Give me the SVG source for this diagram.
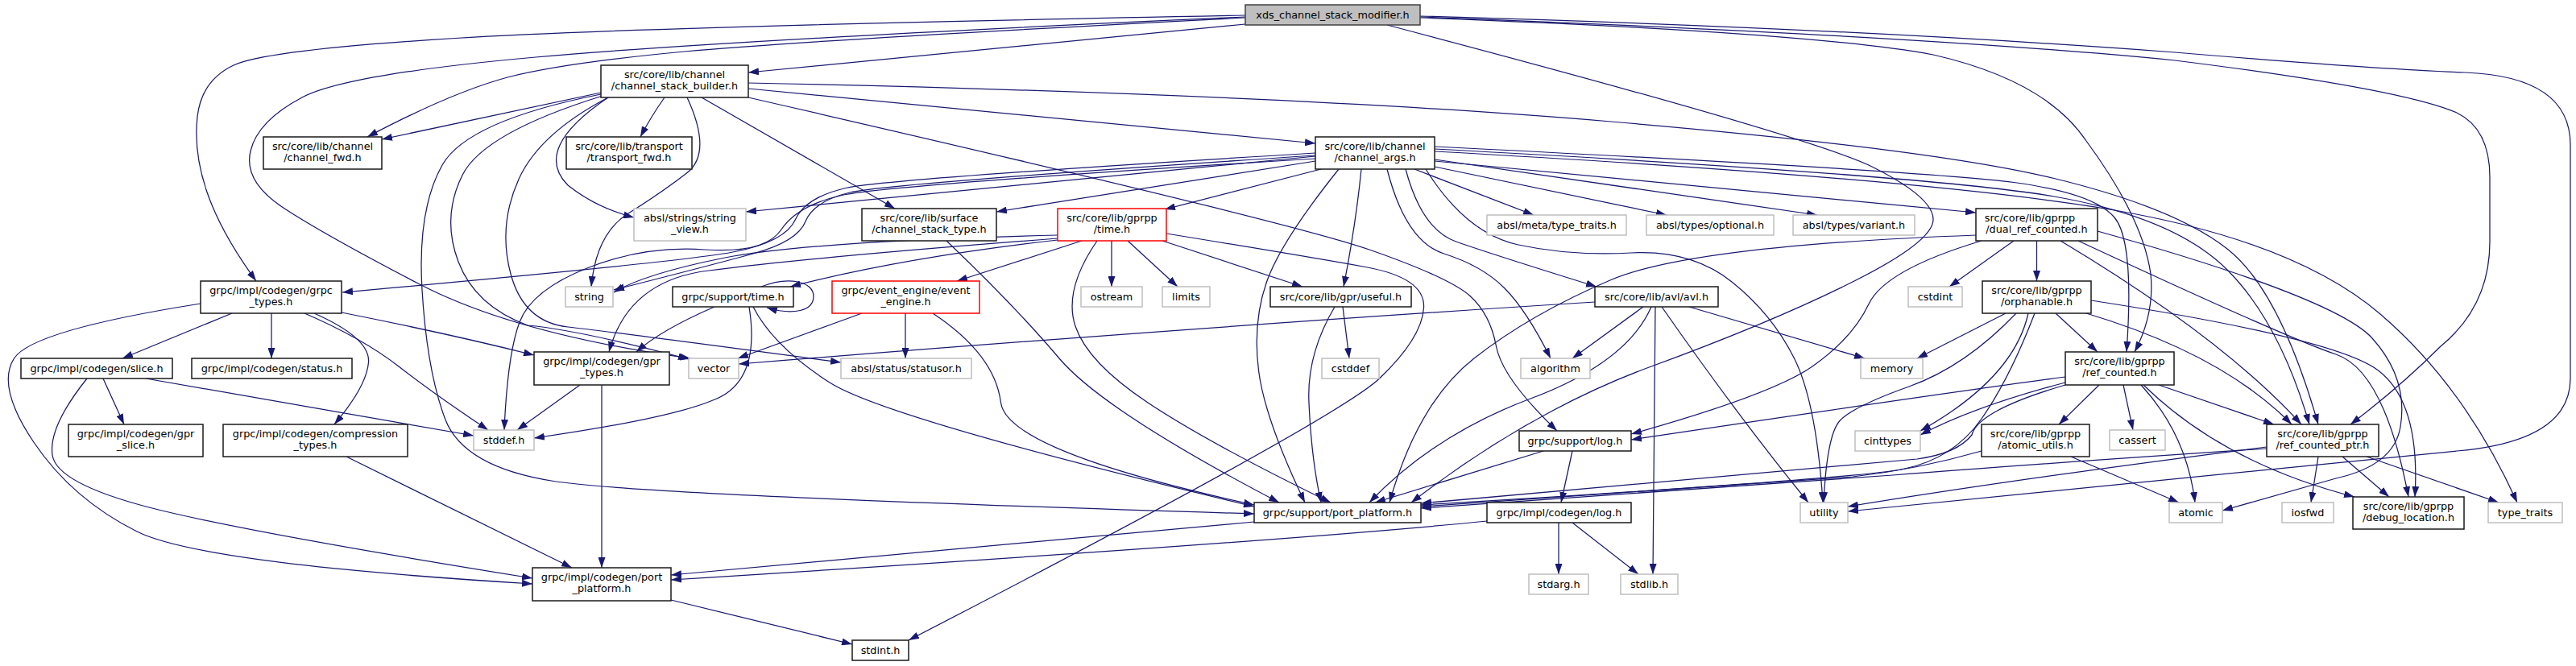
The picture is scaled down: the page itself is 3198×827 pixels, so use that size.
<svg xmlns="http://www.w3.org/2000/svg" width="3198" height="827" viewBox="0 0 3198 827">
<style>
.e{fill:none;stroke:#191970;stroke-width:1.25;marker-end:url(#ah)}
.b{fill:#fff;stroke:#1a1a1a;stroke-width:1.5}
.g{fill:#fff;stroke:#bfbfbf;stroke-width:1.5}
.r{fill:#fff;stroke:#ff0000;stroke-width:1.5}
.t{fill:#bfbfbf;stroke:#404040;stroke-width:1.5}
text{font-family:"DejaVu Sans","Liberation Sans",sans-serif;font-size:12.8px;text-anchor:middle;fill:#000}
</style>
<defs>
<marker id="ah" viewBox="0 0 13 9" refX="13" refY="4.5" markerWidth="13" markerHeight="9" markerUnits="userSpaceOnUse" orient="auto"><path d="M0,0 L13,4.5 L0,9 Z" fill="#191970"/></marker>
</defs>
<rect width="3198" height="827" fill="#fff"/>
<g id="edges">
<path class="e" d="M1546,30 L929,90"/>
<path class="e" d="M1546,22 Q1000,50 850,64 Q700,78 630,96 Q560,115 456,170"/>
<path class="e" d="M1546,19 Q800,33 565,47.5 Q330,62 290,81 Q250,100 245,145 Q240,190 257.5,240 Q275,290 318,349"/>
<path class="e" d="M1546,21 Q900,50 665,71 Q430,92 375,121 Q320,150 311,187.5 Q302,225 351,257.5 Q400,290 520,352.5 Q640,415 857,445"/>
<path class="e" d="M1763,20 Q2300,35 2700,65 Q2950,86 3060,90 Q3191,95 3191,180 L3191,470 Q3191,548 3050,560 Q2600,605 2294,635"/>
<path class="e" d="M1763,21 Q2400,45 2700,75 Q2980,110 3050,140 Q3091,160 3091,220 L3091,300 Q3091,380 3030,430 Q2980,480 2918,527"/>
<path class="e" d="M1763,22 Q2250,40 2400,68 Q2540,100 2590,175 Q2660,270 2670,340 Q2675,390 2650,437"/>
<path class="e" d="M1722,31 Q2250,170 2325,207.5 Q2400,245 2400,272.5 Q2400,300 2300,350 Q2200,400 2050,455 Q1900,510 1752,624"/>
<path class="e" d="M746,115 L474,173"/>
<path class="e" d="M825,121 Q808,145 795,170"/>
<path class="e" d="M755,121 Q660,185 705,230 Q740,258 787,270"/>
<path class="e" d="M853,121 Q885,190 852.5,215 Q820,240 780,265 Q740,290 734,356"/>
<path class="e" d="M748,119 Q600,165 574,217.5 Q548,270 569,325 Q590,380 655,404 Q720,410 855,446"/>
<path class="e" d="M757,120 Q670,165 644,222.5 Q618,280 634,340 Q650,400 705,406 Q760,412 1044,450"/>
<path class="e" d="M871,121 L1111,259"/>
<path class="e" d="M929,110 L1633,178"/>
<path class="e" d="M929,121 Q1600,275 1700,310 Q1800,345 1825,367.5 Q1850,390 1857.5,430 Q1865,470 1933,535"/>
<path class="e" d="M746,117 Q580,150 549,205 Q518,260 524,360 Q530,460 552.5,520 Q575,580 687.5,597.5 Q800,615 1557,638"/>
<path class="e" d="M929,103 Q1600,117 2000,151 Q2400,185 2550,221.5 Q2700,258 2765,309 Q2830,360 2878,527"/>
<path class="e" d="M1633,194 L926,263"/>
<path class="e" d="M1633,200 L1237,263"/>
<path class="e" d="M1640,210 L1446,260"/>
<path class="e" d="M1756,210 L1904,267"/>
<path class="e" d="M1781,207 L2069,267"/>
<path class="e" d="M1781,198 L2256,267"/>
<path class="e" d="M1781,200 L2453,264"/>
<path class="e" d="M1633,190 Q1100,222 1050,233.5 Q1000,245 987.5,272.5 Q975,300 912.5,312.5 Q850,325 425,363"/>
<path class="e" d="M1633,193 Q1100,228 1055,239 Q1010,250 1000,275 Q990,300 935,315 Q880,330 762,360"/>
<path class="e" d="M1690,210 Q1683,280 1668,356"/>
<path class="e" d="M1745,210 Q1765,285 1807.5,300 Q1850,315 1982,356"/>
<path class="e" d="M1722,210 Q1745,300 1792.5,315 Q1840,330 1867.5,357.5 Q1895,385 1925,445"/>
<path class="e" d="M1770,210 Q1820,290 1885,304 Q1950,318 2025,314 Q2100,310 2150,350 Q2200,390 2227.5,445 Q2255,500 2263,624"/>
<path class="e" d="M1662,210 Q1590,300 1572.5,350 Q1555,400 1562.5,460 Q1570,520 1620,624"/>
<path class="e" d="M1633,197 Q1100,230 1045,242.5 Q990,255 970,285 Q950,315 875,310 Q800,305 730,332.5 Q660,360 645,400 Q630,440 626,534"/>
<path class="e" d="M1781,182 Q2400,213 2500,226.5 Q2600,240 2625,270 Q2650,300 2640,437"/>
<path class="e" d="M1781,185 Q2400,218 2550,244 Q2700,270 2765,335 Q2830,400 2867,527"/>
<path class="e" d="M1781,188 Q2400,222 2625,261 Q2850,300 2955,390 Q3060,480 3125,624"/>
<path class="e" d="M1313,292 Q1000,300 900,320 Q800,340 762,363"/>
<path class="e" d="M1313,298 Q1120,320 981,356"/>
<path class="e" d="M1343,299 L1188,349"/>
<path class="e" d="M1380,299 L1380,356"/>
<path class="e" d="M1400,299 L1462,356"/>
<path class="e" d="M1443,299 L1617,356"/>
<path class="e" d="M1448,290 Q1620,318 1695,331.5 Q1770,345 1767.5,382.5 Q1765,420 1712.5,470 Q1660,520 1128,795"/>
<path class="e" d="M1313,296 Q1000,320 880,336 Q780,348 756,437"/>
<path class="e" d="M1362,299 Q1320,360 1335,405 Q1350,450 1425,500 Q1500,550 1652,624"/>
<path class="e" d="M945,356 C980,342 1010,350 1010,368 C1010,386 985,392 952,382"/>
<path class="e" d="M887,381 Q820,410 790,437"/>
<path class="e" d="M930,381 Q945,475 885,497 Q830,520 663,544"/>
<path class="e" d="M935,381 Q960,430 1030,475 Q1100,520 1557,629"/>
<path class="e" d="M1070,389 L916,445"/>
<path class="e" d="M1124,389 L1124,445"/>
<path class="e" d="M1158,389 Q1235,440 1242.5,500 Q1250,560 1557,627"/>
<path class="e" d="M1667,381 L1675,445"/>
<path class="e" d="M1657,381 Q1622,440 1625,500 Q1628,570 1640,624"/>
<path class="e" d="M1980,375 Q1500,405 917,452"/>
<path class="e" d="M2040,381 L1952,445"/>
<path class="e" d="M2097,381 L2315,445"/>
<path class="e" d="M2055,381 L2052,713"/>
<path class="e" d="M2063,381 Q2160,520 2245,624"/>
<path class="e" d="M2050,381 Q2020,450 1900,495 Q1780,540 1700,624"/>
<path class="e" d="M1916,560 L1707,624"/>
<path class="e" d="M1952,560 L1938,624"/>
<path class="e" d="M1935,649 L1935,713"/>
<path class="e" d="M1952,649 L2034,713"/>
<path class="e" d="M1846,647 Q1600,672 833,720"/>
<path class="e" d="M1557,648 L833,714"/>
<path class="e" d="M288,389 L152,445"/>
<path class="e" d="M337,389 L337,445"/>
<path class="e" d="M390,389 Q460,420 457.5,450 Q455,480 415,527"/>
<path class="e" d="M378,389 Q450,420 495,455 Q540,490 606,534"/>
<path class="e" d="M424,388 Q560,415 663,441"/>
<path class="e" d="M249,377 Q40,410 17.5,445 Q-5,480 42.5,550 Q90,620 170,660 Q250,700 661,725"/>
<path class="e" d="M128,470 L154,527"/>
<path class="e" d="M181,470 L588,541"/>
<path class="e" d="M108,470 Q60,530 65,565 Q70,600 185,630 Q300,660 661,718"/>
<path class="e" d="M430,567 L710,705"/>
<path class="e" d="M720,478 L642,534"/>
<path class="e" d="M747,478 L747,705"/>
<path class="e" d="M833,745 L1058,800"/>
<path class="e" d="M2500,299 L2420,356"/>
<path class="e" d="M2528.5,299 L2528.5,349"/>
<path class="e" d="M2453,292 Q2100,305 2000,347.5 Q1900,390 1830,445 Q1760,500 1725,624"/>
<path class="e" d="M2460,299 Q2340,335 2320,377.5 Q2300,420 2250,455 Q2200,490 2025,539"/>
<path class="e" d="M2558,299 Q2760,420 2857,527"/>
<path class="e" d="M2580,299 Q2840,420 2900,440 Q2960,460 2990,617"/>
<path class="e" d="M2604,287 Q2900,370 2945,420 Q2990,470 2980,530 Q2972,578 2900,594 L2759,634"/>
<path class="e" d="M2490,389 L2380,445"/>
<path class="e" d="M2552,389 L2604,437"/>
<path class="e" d="M2503,389 Q2440,455 2370,480 Q2300,505 2284,522.5 Q2268,540 2264,624"/>
<path class="e" d="M2518,389 Q2500,470 2384,535"/>
<path class="e" d="M2526,389 Q2495,470 2460,520 Q2425,570 2362.5,582.5 Q2300,595 1764,627"/>
<path class="e" d="M2590,389 Q2760,440 2845,527"/>
<path class="e" d="M2596,373 Q2900,420 2952.5,460 Q3005,500 2998,617"/>
<path class="e" d="M2564,468 Q2400,490 2025,546"/>
<path class="e" d="M2564,475 Q2450,505 2384,540"/>
<path class="e" d="M2564,478 Q2455,510 2448,540 Q2430,563 2380,570 L1764,625"/>
<path class="e" d="M2606,478 L2556,527"/>
<path class="e" d="M2636,478 L2648,534"/>
<path class="e" d="M2658,478 Q2715,540 2725,624"/>
<path class="e" d="M2661,478 Q2760,575 2923,617"/>
<path class="e" d="M2680,478 L2823,527"/>
<path class="e" d="M2571,567 L2705,624"/>
<path class="e" d="M2460,560 Q2380,583 2300,592 L1764,629"/>
<path class="e" d="M2878,567 L2869,624"/>
<path class="e" d="M2908,567 L2966,617"/>
<path class="e" d="M2938,567 L3102,624"/>
<path class="e" d="M2814,555 Q2500,595 2294,629"/>
<path class="e" d="M2814,557 Q2500,578 2350,590 L1764,631"/>
<path class="e" d="M1175,299 Q1260,380 1315,445 Q1370,510 1588,624"/>
</g>
<g id="n1"><rect class="t" x="1546" y="6" width="217" height="25"/><text x="1654.5" y="23">xds_channel_stack_modifier.h</text></g>
<g id="n2"><rect class="b" x="746" y="81" width="183" height="40"/><text x="837.5" y="97"><tspan x="837.5">src/core/lib/channel</tspan><tspan x="837.5" dy="14">/channel_stack_builder.h</tspan></text></g>
<g id="n3"><rect class="b" x="327" y="170" width="147" height="40"/><text x="400.5" y="186"><tspan x="400.5">src/core/lib/channel</tspan><tspan x="400.5" dy="14">/channel_fwd.h</tspan></text></g>
<g id="n4"><rect class="b" x="703" y="170" width="156" height="40"/><text x="781" y="186"><tspan x="781">src/core/lib/transport</tspan><tspan x="781" dy="14">/transport_fwd.h</tspan></text></g>
<g id="n5"><rect class="b" x="1633" y="170" width="148" height="40"/><text x="1707" y="186"><tspan x="1707">src/core/lib/channel</tspan><tspan x="1707" dy="14">/channel_args.h</tspan></text></g>
<g id="n6"><rect class="g" x="787" y="259" width="139" height="40"/><text x="856.5" y="275"><tspan x="856.5">absl/strings/string</tspan><tspan x="856.5" dy="14">_view.h</tspan></text></g>
<g id="n7"><rect class="b" x="1070" y="259" width="167" height="40"/><text x="1153.5" y="275"><tspan x="1153.5">src/core/lib/surface</tspan><tspan x="1153.5" dy="14">/channel_stack_type.h</tspan></text></g>
<g id="n8"><rect class="r" x="1313" y="259" width="135" height="40"/><text x="1380.5" y="275"><tspan x="1380.5">src/core/lib/gprpp</tspan><tspan x="1380.5" dy="14">/time.h</tspan></text></g>
<g id="n9"><rect class="g" x="1846" y="267" width="173" height="25"/><text x="1932.5" y="284">absl/meta/type_traits.h</text></g>
<g id="n10"><rect class="g" x="2044" y="267" width="158" height="25"/><text x="2123" y="284">absl/types/optional.h</text></g>
<g id="n11"><rect class="g" x="2226" y="267" width="151" height="25"/><text x="2301.5" y="284">absl/types/variant.h</text></g>
<g id="n12"><rect class="b" x="2453" y="259" width="151" height="40"/><text x="2528.5" y="275"><tspan x="2520">src/core/lib/gprpp</tspan><tspan x="2528.5" dy="14">/dual_ref_counted.h</tspan></text></g>
<g id="n13"><rect class="b" x="249" y="349" width="175" height="40"/><text x="336.5" y="365"><tspan x="336.5">grpc/impl/codegen/grpc</tspan><tspan x="336.5" dy="14">_types.h</tspan></text></g>
<g id="n14"><rect class="g" x="702" y="356" width="59" height="25"/><text x="731.5" y="373">string</text></g>
<g id="n15"><rect class="b" x="835" y="356" width="150" height="25"/><text x="910" y="373">grpc/support/time.h</text></g>
<g id="n16"><rect class="r" x="1033" y="349" width="183" height="40"/><text x="1124.5" y="365"><tspan x="1124.5">grpc/event_engine/event</tspan><tspan x="1124.5" dy="14">_engine.h</tspan></text></g>
<g id="n17"><rect class="g" x="1342" y="356" width="76" height="25"/><text x="1380" y="373">ostream</text></g>
<g id="n18"><rect class="g" x="1443" y="356" width="59" height="25"/><text x="1472.5" y="373">limits</text></g>
<g id="n19"><rect class="b" x="1577" y="356" width="175" height="25"/><text x="1664.5" y="373">src/core/lib/gpr/useful.h</text></g>
<g id="n20"><rect class="b" x="1980" y="356" width="153" height="25"/><text x="2056.5" y="373">src/core/lib/avl/avl.h</text></g>
<g id="n21"><rect class="g" x="2369" y="356" width="67" height="25"/><text x="2402.5" y="373">cstdint</text></g>
<g id="n22"><rect class="b" x="2461" y="349" width="135" height="40"/><text x="2528.5" y="365"><tspan x="2528.5">src/core/lib/gprpp</tspan><tspan x="2528.5" dy="14">/orphanable.h</tspan></text></g>
<g id="n23"><rect class="b" x="26" y="445" width="188" height="25"/><text x="120" y="462">grpc/impl/codegen/slice.h</text></g>
<g id="n24"><rect class="b" x="238" y="445" width="199" height="25"/><text x="337.5" y="462">grpc/impl/codegen/status.h</text></g>
<g id="n25"><rect class="b" x="85" y="527" width="167" height="40"/><text x="168.5" y="543"><tspan x="168.5">grpc/impl/codegen/gpr</tspan><tspan x="168.5" dy="14">_slice.h</tspan></text></g>
<g id="n26"><rect class="b" x="277" y="527" width="229" height="40"/><text x="391.5" y="543"><tspan x="391.5">grpc/impl/codegen/compression</tspan><tspan x="391.5" dy="14">_types.h</tspan></text></g>
<g id="n27"><rect class="g" x="588" y="534" width="75" height="25"/><text x="625.5" y="551">stddef.h</text></g>
<g id="n28"><rect class="b" x="663" y="437" width="168" height="41"/><text x="747" y="453"><tspan x="747">grpc/impl/codegen/gpr</tspan><tspan x="747" dy="14">_types.h</tspan></text></g>
<g id="n29"><rect class="g" x="855" y="445" width="62" height="25"/><text x="886" y="462">vector</text></g>
<g id="n30"><rect class="g" x="1044" y="445" width="162" height="25"/><text x="1125" y="462">absl/status/statusor.h</text></g>
<g id="n31"><rect class="b" x="661" y="705" width="172" height="41"/><text x="747" y="721"><tspan x="747">grpc/impl/codegen/port</tspan><tspan x="747" dy="14">_platform.h</tspan></text></g>
<g id="n32"><rect class="b" x="1058" y="795" width="70" height="25"/><text x="1093" y="812">stdint.h</text></g>
<g id="n33"><rect class="b" x="1557" y="624" width="207" height="25"/><text x="1660.5" y="641">grpc/support/port_platform.h</text></g>
<g id="n34"><rect class="g" x="1641" y="445" width="71" height="25"/><text x="1676.5" y="462">cstddef</text></g>
<g id="n35"><rect class="g" x="1888" y="445" width="86" height="25"/><text x="1931" y="462">algorithm</text></g>
<g id="n36"><rect class="g" x="2310" y="445" width="77" height="25"/><text x="2348.5" y="462">memory</text></g>
<g id="n37"><rect class="b" x="1886" y="535" width="139" height="25"/><text x="1955.5" y="552">grpc/support/log.h</text></g>
<g id="n38"><rect class="g" x="2303" y="535" width="81" height="25"/><text x="2343.5" y="552">cinttypes</text></g>
<g id="n39"><rect class="b" x="1846" y="624" width="179" height="25"/><text x="1935.5" y="641">grpc/impl/codegen/log.h</text></g>
<g id="n40"><rect class="g" x="2235" y="624" width="59" height="25"/><text x="2264.5" y="641">utility</text></g>
<g id="n41"><rect class="g" x="1898" y="713" width="74" height="25"/><text x="1935" y="730">stdarg.h</text></g>
<g id="n42"><rect class="g" x="2012" y="713" width="71" height="25"/><text x="2047.5" y="730">stdlib.h</text></g>
<g id="n43"><rect class="b" x="2564" y="437" width="135" height="41"/><text x="2631.5" y="453"><tspan x="2631.5">src/core/lib/gprpp</tspan><tspan x="2631.5" dy="14">/ref_counted.h</tspan></text></g>
<g id="n44"><rect class="b" x="2460" y="527" width="134" height="40"/><text x="2527" y="543"><tspan x="2527">src/core/lib/gprpp</tspan><tspan x="2527" dy="14">/atomic_utils.h</tspan></text></g>
<g id="n45"><rect class="g" x="2619" y="534" width="69" height="25"/><text x="2653.5" y="551">cassert</text></g>
<g id="n46"><rect class="b" x="2814" y="527" width="139" height="40"/><text x="2883.5" y="543"><tspan x="2883.5">src/core/lib/gprpp</tspan><tspan x="2883.5" dy="14">/ref_counted_ptr.h</tspan></text></g>
<g id="n47"><rect class="g" x="2693" y="624" width="66" height="25"/><text x="2726" y="641">atomic</text></g>
<g id="n48"><rect class="g" x="2833" y="624" width="64" height="25"/><text x="2865" y="641">iosfwd</text></g>
<g id="n49"><rect class="b" x="2921" y="617" width="138" height="40"/><text x="2990" y="633"><tspan x="2990">src/core/lib/gprpp</tspan><tspan x="2990" dy="14">/debug_location.h</tspan></text></g>
<g id="n50"><rect class="g" x="3089" y="624" width="92" height="25"/><text x="3135" y="641">type_traits</text></g>
</svg>
